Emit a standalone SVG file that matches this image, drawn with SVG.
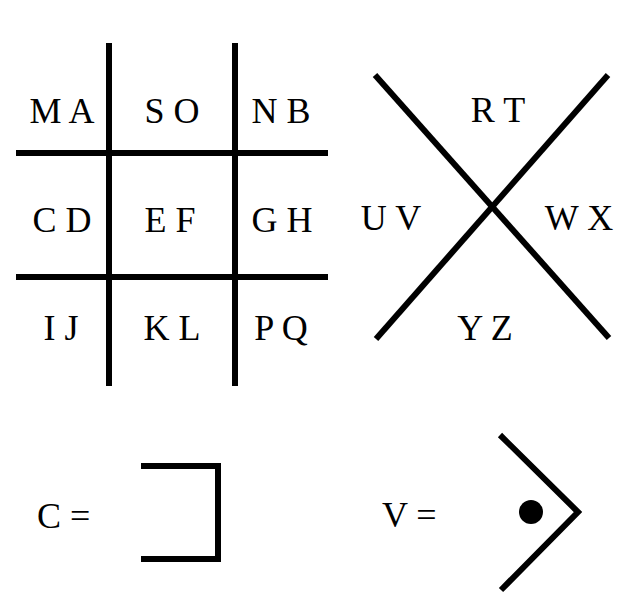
<svg xmlns="http://www.w3.org/2000/svg" width="622" height="600" viewBox="0 0 622 600">
<style>
.ln{stroke:#000;stroke-width:6;fill:none;stroke-linecap:butt}
.t{font-family:'Liberation Serif',serif;font-size:36px;fill:#000;text-anchor:middle}
.ts{font-family:'Liberation Serif',serif;font-size:36px;fill:#000}
</style>
<rect width="622" height="600" fill="#fff"/>
<g id="grid">
<line class="ln" x1="109" y1="43" x2="109" y2="386"/>
<line class="ln" x1="235" y1="43" x2="235" y2="386"/>
<line class="ln" x1="16" y1="153" x2="328" y2="153"/>
<line class="ln" x1="16" y1="277" x2="328" y2="277"/>
<text class="t" x="62" y="123">M A</text>
<text class="t" x="172" y="123">S O</text>
<text class="t" x="281" y="123">N B</text>
<text class="t" x="62" y="232">C D</text>
<text class="t" x="170" y="232">E F</text>
<text class="t" x="282" y="232">G H</text>
<text class="t" x="61" y="340">I J</text>
<text class="t" x="172" y="340">K L</text>
<text class="t" x="281" y="340">P Q</text>
</g>
<g id="xgrid">
<line class="ln" x1="375" y1="75" x2="609" y2="338"/>
<line class="ln" x1="608" y1="75" x2="376" y2="339"/>
<text class="t" x="498" y="122">R T</text>
<text class="t" x="391" y="230">U V</text>
<text class="t" x="579" y="230">W X</text>
<text class="t" x="485" y="340">Y Z</text>
</g>
<g id="example-c">
<text class="ts" x="37" y="528">C =</text>
<polyline class="ln" points="141,466 218,466 218,559 141,559"/>
</g>
<g id="example-v">
<text class="ts" x="382" y="527">V =</text>
<polyline class="ln" points="500,435 578,512 501,590"/>
<circle cx="531" cy="512" r="12" fill="#000"/>
</g>
</svg>
